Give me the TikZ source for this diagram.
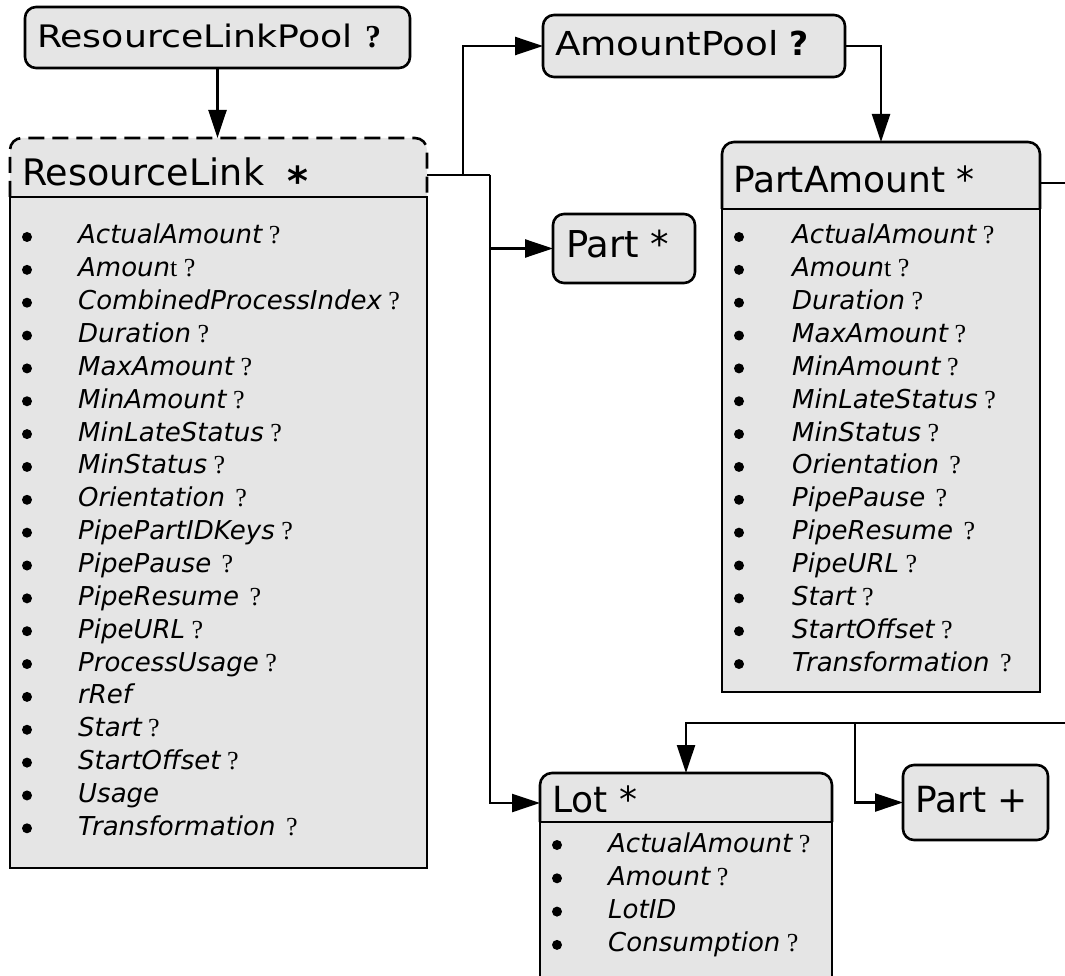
\documentclass[tikz,border=0pt]{standalone}
\usepackage{fontspec}
\usepackage{graphicx}
\setmainfont{DejaVu Sans}
\newfontfamily\serifq{Liberation Serif}
\usetikzlibrary{arrows.meta}
\definecolor{boxgray}{RGB}{229,229,229}
\newcommand{\fs}[1]{\fontsize{#1}{#1}\selectfont}
\newcommand{\qm}{{\serifq\upshape\ ?}}
\newcommand{\qmw}{{\serifq\upshape\ \hspace{4pt}?}}
\newcommand{\st}{{\serifq\upshape t}}
\begin{document}
\begin{tikzpicture}[x=1pt,y=-1pt, line width=2.4pt,
 shp/.style={inner sep=0pt, outer sep=0pt, anchor=north west},
 rbox/.style={shp, draw, fill=boxgray, rounded corners=11pt, line width=2.6pt},
 hd/.style={anchor=base west, inner sep=0pt, outer sep=0pt, font=\fs{36}},
 itm/.style={anchor=base west, inner sep=0pt, font=\fs{26}\itshape},
 bul/.style={circle, fill=black, inner sep=0pt, minimum size=10pt},
 arr/.style={-{Triangle[length=28pt,width=18pt]}},
 edge/.style={line width=2.6pt},
]
\useasboundingbox (0,0) rectangle (1065,976);

% ResourceLinkPool
\node[rbox, minimum width=385pt, minimum height=61pt] (rlp) at (25,7) {};
\node[hd, font=\fs{31}] (rlpt) at (37,48) {\scalebox{1.17}[1]{ResourceLinkPool}};
\node[hd, font=\fs{32}\serifq\bfseries] (rlpq) at (365,48) {?};

% ResourceLink
\node[shp, minimum width=417pt, minimum height=59pt] (rlh) at (10,138) {};
\fill[boxgray, rounded corners=12pt] (rlh.south west) -- (rlh.north west) -- (rlh.north east) -- (rlh.south east);
\draw[edge, dash pattern=on 16pt off 8pt, rounded corners=12pt] (rlh.south west) -- (rlh.north west) -- (rlh.north east) -- (rlh.south east);
\node[shp, minimum width=417pt, minimum height=671pt, draw, fill=boxgray, edge] (rlb) at (10,197) {};
\node[hd, font=\fs{36.5}] (rlt) at (22,186) {ResourceLink};
\node[hd, font=\fs{40}\bfseries] (rls) at (287,196) {*};
\foreach [count=\i from 0] \t in {
 {ActualAmount\qm}, {Amoun\st\qm}, {CombinedProcessIndex\qm}, {Duration\qm},
 {MaxAmount\qm}, {MinAmount\qm}, {MinLateStatus\qm}, {MinStatus\qm},
 {Orientation\qmw}, {PipePartIDKeys\qm}, {PipePause\qmw}, {PipeResume\qmw},
 {PipeURL\qm}, {ProcessUsage\qm}, {rRef}, {Start\qm}, {StartOffset\qm},
 {Usage}, {Transformation\qmw}}
{
 \node[bul] (rlbu\i) at (27,237+32.85*\i) {};
 \node[itm] (rli\i) at (77,244+32.85*\i) {\t};
}

% AmountPool
\node[rbox, minimum width=302pt, minimum height=62pt] (ap) at (543,15) {};
\node[hd, font=\fs{33}] (apt) at (555,56) {\scalebox{1.13}[1]{AmountPool}};
\node[hd, font=\fs{33}\bfseries] (apq) at (789,56) {?};

% Part *
\node[rbox, minimum width=142pt, minimum height=69pt] (part) at (553,214) {};
\node[hd, font=\fs{37}] (partt) at (566,258) {Part *};

% PartAmount
\node[shp, minimum width=318pt, minimum height=67pt] (pah) at (722,142) {};
\draw[edge, fill=boxgray, rounded corners=12pt] (pah.south west) -- (pah.north west) -- (pah.north east) -- (pah.south east);
\node[shp, minimum width=318pt, minimum height=483pt, draw, fill=boxgray, edge] (pab) at (722,209) {};
\node[hd] (pat) at (733,193) {PartAmount *};
\foreach [count=\i from 0] \t in {
 {ActualAmount\qm}, {Amoun\st\qm}, {Duration\qm}, {MaxAmount\qm},
 {MinAmount\qm}, {MinLateStatus\qm}, {MinStatus\qm}, {Orientation\qmw},
 {PipePause\qmw}, {PipeResume\qmw}, {PipeURL\qm}, {Start\qm},
 {StartOffset\qm}, {Transformation\qmw}}
{
 \node[bul] (pabu\i) at (739,237+32.85*\i) {};
 \node[itm] (pai\i) at (791,244+32.85*\i) {\t};
}

% Lot
\node[shp, minimum width=292pt, minimum height=49pt] (loth) at (540,773) {};
\draw[edge, fill=boxgray, rounded corners=12pt] (loth.south west) -- (loth.north west) -- (loth.north east) -- (loth.south east);
\node[shp, minimum width=292pt, minimum height=170pt] (lotb) at (540,822) {};
\fill[boxgray] (lotb.north west) rectangle (lotb.south east);
\draw[edge] (lotb.south west) -- (lotb.north west) -- (lotb.north east) -- (lotb.south east);
\node[hd] (lott) at (552,812) {Lot *};
\foreach [count=\i from 0] \t in {
 {ActualAmount\qm}, {Amount\qm}, {LotID}, {Consumption\qm}}
{
 \node[bul] (lobu\i) at (557,845+33.3*\i) {};
 \node[itm] (loi\i) at (607,852+33.3*\i) {\t};
}

% Part +
\node[rbox, minimum width=145pt, minimum height=75pt] (pp) at (903,765) {};
\node[hd] (ppt) at (915,812) {Part +};

% connectors
\coordinate (jt) at (463,175);
\coordinate (jv) at (490,175);
\coordinate (pe) at (1065,183);
\coordinate (re) at (1065,723);
\coordinate (jb) at (855,723);
\draw[arr] (rlp.south) -- (rlp.south |- rlh.north);
\draw ([yshift=-7.5pt]rlh.east) -- (jv);
\draw[arr] (jt) |- (ap.west);
\draw[arr] (jv) |- (part.west);
\draw[arr] (jv) |- ([yshift=-5.5pt]loth.west);
\draw[arr] (ap.east) -| (pah.north);
\draw ([yshift=-7.5pt]pah.east) -- (pe);
\draw[arr] (re) -| (loth.north);
\draw[arr] (jb) |- (pp.west);
\end{tikzpicture}
\end{document}
